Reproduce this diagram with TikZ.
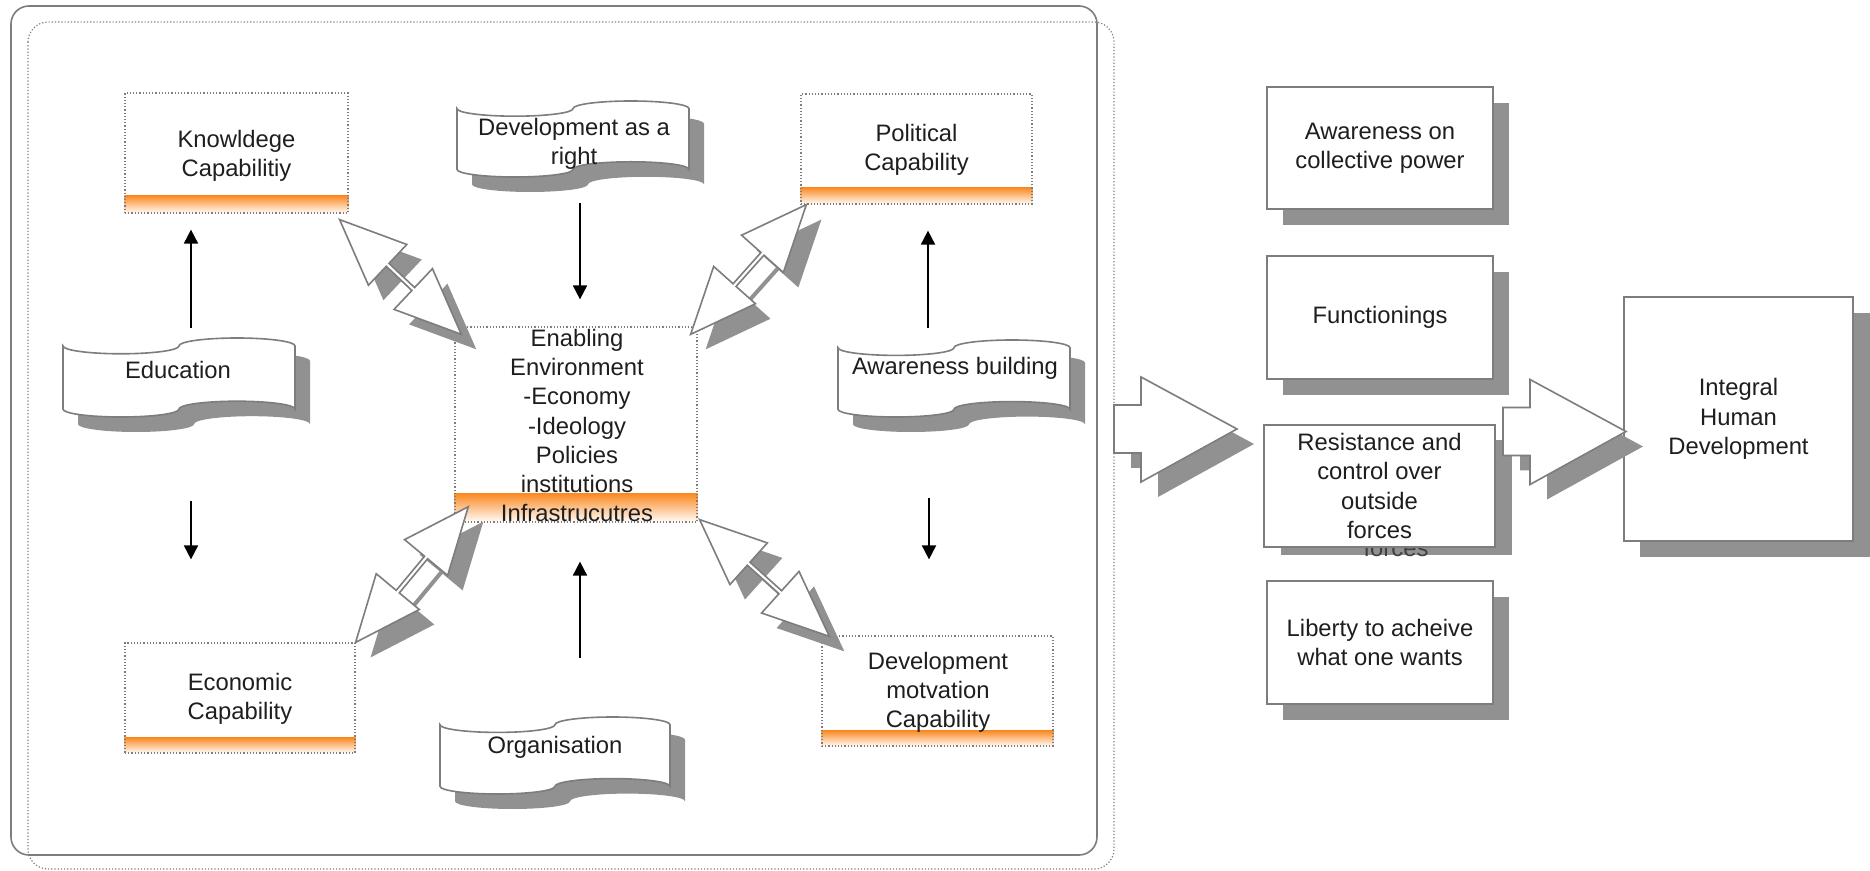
\documentclass[tikz,border=0pt]{standalone}
\usepackage{fontspec}
\setmainfont{Liberation Sans}
\usetikzlibrary{calc,arrows.meta}
\pgfdeclarelayer{back}
\pgfsetlayers{back,main}

\definecolor{edgegray}{RGB}{125,125,125}
\definecolor{shadegray}{RGB}{145,145,145}
\definecolor{bandorange}{RGB}{250,138,35}
\definecolor{inkgray}{RGB}{30,30,30}

\tikzset{
  lbl/.style={align=center, inner sep=0pt, text=inkgray, font=\fontsize{11.9}{14.6}\selectfont},
  capbox/.style={draw=edgegray, densely dotted, line width=0.6pt, inner sep=0pt},
  solidbox/.style={lbl, draw=edgegray, line width=0.8pt, fill=white},
  areabox/.style={inner sep=0pt, outer sep=0pt},
  flowarrow/.style={line width=0.9pt, -{Triangle[length=7pt,width=7pt]}},
  blockarrow/.style={draw=edgegray, line width=0.8pt, fill=white, line join=miter},
}

% punched-tape outline over the frame of an invisible node: #1 node, #2/#3 offset, #4 style
\newcommand\tape[4]{%
  \path[#4] let \p1=(#1.north west), \p2=(#1.south east),
      \n1={(\x2-\x1)/4}, \n2={(\y1-\y2)/10} in
    (\x1+#2,\y1-\n2+#3)
    arc[start angle=180,end angle=360,x radius=\n1,y radius=\n2]
    arc[start angle=180,end angle=0,x radius=\n1,y radius=\n2]
    -- (\x2+#2,\y2+\n2+#3)
    arc[start angle=0,end angle=180,x radius=\n1,y radius=\n2]
    arc[start angle=0,end angle=-180,x radius=\n1,y radius=\n2]
    -- cycle;}

% two-headed block arrow between two named points, with its shadow
\newcommand\dblarrow[2]{%
  \path (#1); \pgfgetlastxy{\dblAx}{\dblAy}%
  \path (#2); \pgfgetlastxy{\dblBx}{\dblBy}%
  \pgfmathsetmacro\dblAng{atan2(\dblBy-\dblAy,\dblBx-\dblAx)}%
  \pgfmathsetmacro\dblLen{veclen(\dblBx-\dblAx,\dblBy-\dblAy)}%
  \pgfmathsetmacro\dblMid{\dblLen-33}%
  \fill[shadegray, shift={(\dblAx+7.5pt,\dblAy-7.5pt)}, rotate=\dblAng, x=1pt, y=1pt]
    (0,0) -- (33,14) -- (33,1) -- (\dblMid,1) -- (\dblMid,14) -- (\dblLen,0)
    -- (\dblMid,-14) -- (\dblMid,-1) -- (33,-1) -- (33,-14) -- cycle;
  \path[blockarrow, shift={(\dblAx,\dblAy)}, rotate=\dblAng, x=1pt, y=1pt]
    (0,0) -- (33,14) -- (33,1) -- (\dblMid,1) -- (\dblMid,14) -- (\dblLen,0)
    -- (\dblMid,-14) -- (\dblMid,-1) -- (33,-1) -- (33,-14) -- cycle;}

% wide right-pointing block arrow: #1 left end, #2 axis height
\newcommand\bigarrow[2]{%
  \fill[shadegray, shift={(#1+17,#2+15)}]
    (0,-24) -- (27,-24) -- (27,-52) -- (123,0) -- (27,53) -- (27,24) -- (0,24) -- cycle;
  \path[blockarrow, shift={(#1,#2)}]
    (0,-24) -- (27,-24) -- (27,-52) -- (123,0) -- (27,53) -- (27,24) -- (0,24) -- cycle;}

\begin{document}
\begin{tikzpicture}[x=0.5pt,y=-0.5pt]
\useasboundingbox (0,0) rectangle (1870,871);

% enclosing frame and its dotted shadow outline
\begin{pgfonlayer}{back}
  \draw[edgegray, densely dotted, line width=0.6pt, rounded corners=10pt] (28,22) rectangle (1114,869);
  \draw[edgegray, line width=0.8pt, rounded corners=9pt] (11,6) rectangle (1097,855);
\end{pgfonlayer}

% capability boxes
\node[capbox, minimum width=111.5pt, minimum height=60pt]   (know)   at (236.5,153) {};
\node[capbox, minimum width=115.5pt, minimum height=55pt]   (pol)    at (916.5,149) {};
\node[capbox, minimum width=115pt,   minimum height=55pt]   (econ)   at (240,698) {};
\node[capbox, minimum width=115.5pt, minimum height=55pt]   (devmot) at (937.5,691) {};
\node[capbox, minimum width=121pt,   minimum height=97.5pt] (enab)   at (576,424.5) {};

% frames of the punched-tape shapes
\node[areabox, minimum width=116pt, minimum height=39.5pt] (edu)  at (179,377.5) {};
\node[areabox, minimum width=116pt, minimum height=38pt]   (devr) at (573,139) {};
\node[areabox, minimum width=116pt, minimum height=38.5pt] (awb)  at (954,378.5) {};
\node[areabox, minimum width=115pt, minimum height=38.5pt] (org)  at (555,755.5) {};

\begin{pgfonlayer}{back}
  % orange bands
  \shade[top color=bandorange, bottom color=white] ($(know.south west)+(0,-18)$) rectangle (know.south east);
  \shade[top color=bandorange, bottom color=white] ($(pol.south west)+(0,-17)$) rectangle (pol.south east);
  \shade[top color=bandorange, bottom color=white] ($(econ.south west)+(0,-16)$) rectangle (econ.south east);
  \shade[top color=bandorange, bottom color=white] ($(devmot.south west)+(0,-16)$) rectangle (devmot.south east);
  \shade[top color=bandorange, bottom color=white] ($(enab.south west)+(0,-29)$) rectangle (enab.south east);
  % punched tapes with shadows
  \foreach \t in {edu,devr,awb,org}{
    \tape{\t}{7.5pt}{-7.5pt}{fill=shadegray}
    \tape{\t}{0pt}{0pt}{fill=white, draw=edgegray, line width=0.8pt}
  }
\end{pgfonlayer}

% texts of the left part
\node[lbl] (know-t)   at (236.5,155.5) {Knowldege\\Capabilitiy};
\node[lbl] (pol-t)    at (916.5,150)   {Political\\Capability};
\node[lbl] (econ-t)   at (240,699)     {Economic\\Capability};
\node[lbl] (devmot-t) at (938,692.5)   {Development\\motvation\\Capability};
\node[lbl] (enab-t)   at (577,425.5)   {Enabling\\Environment\\-Economy\\-Ideology\\Policies\\institutions\\Infrastrucutres};
\node[lbl] (edu-t)    at (178,370)     {Education};
\node[lbl] (devr-t)   at (574,144)     {Development as a\\right};
\node[lbl] (awb-t)    at (955,368)     {Awareness building};
\node[lbl] (org-t)    at (555,747)     {Organisation};

% thin arrows
\draw[flowarrow] ($(edu.north)+(12,-10)$)   -- ($(know.south)+(-45.5,16)$);
\draw[flowarrow] ($(edu.south)+(12,84)$)    -- ($(econ.north)+(-49,-83)$);
\draw[flowarrow] ($(devr.south)+(7,26)$)    -- ($(enab.north)+(4,-27)$);
\draw[flowarrow] ($(org.north)+(25,-59)$)   -- ($(enab.south)+(4,39)$);
\draw[flowarrow] ($(awb.north)+(-26,-12)$)  -- ($(pol.south)+(11.5,26)$);
\draw[flowarrow] ($(awb.south)+(-25,81)$)   -- ($(devmot.north)+(-8.5,-76)$);

% two-headed block arrows around the central box
\coordinate (nwA) at ($(know.south east)+(-9,6)$);
\coordinate (nwB) at ($(enab.north west)+(7,8)$);
\coordinate (neA) at ($(pol.south west)+(6,0)$);
\coordinate (neB) at ($(enab.north east)+(-7,8)$);
\coordinate (swA) at (econ.north east);
\coordinate (swB) at ($(enab.south west)+(14,-16)$);
\coordinate (seA) at ($(enab.south east)+(2,-3)$);
\coordinate (seB) at ($(devmot.north west)+(8,1)$);
\dblarrow{nwA}{nwB}
\dblarrow{neA}{neB}
\dblarrow{swA}{swB}
\dblarrow{seA}{seB}

% right column
\begin{pgfonlayer}{back}
  \fill[shadegray] (1283,103) rectangle (1509,225);
  \fill[shadegray] (1283,272) rectangle (1509,395);
  \fill[shadegray] (1281,440) rectangle (1512,555);
  \fill[shadegray] (1283,597) rectangle (1509,720);
  \fill[shadegray] (1640,313) rectangle (1870,557);
  \node[lbl, text=black!75] (res-ghost) at (1396,548) {forces};
\end{pgfonlayer}
\node[solidbox, minimum width=113pt,   minimum height=61pt]   (acp) at (1380,148)   {Awareness on\\collective power};
\node[solidbox, minimum width=113pt,   minimum height=61.5pt] (fun) at (1380,317.5) {Functionings};
\node[solidbox, minimum width=115.5pt, minimum height=61pt]   (res) at (1379.5,486) {Resistance and\\control over\\outside\\forces};
\node[solidbox, minimum width=113pt,   minimum height=61.5pt] (lib) at (1380,642.5) {Liberty to acheive\\what one wants};
\node[solidbox, minimum width=114.5pt, minimum height=122pt]  (ihd) at (1738.5,419) {Integral\\Human\\Development};

% wide arrows: frame to outcomes, outcomes to the final box
\bigarrow{1114}{429}
\bigarrow{1503}{431.5}

\end{tikzpicture}
\end{document}
